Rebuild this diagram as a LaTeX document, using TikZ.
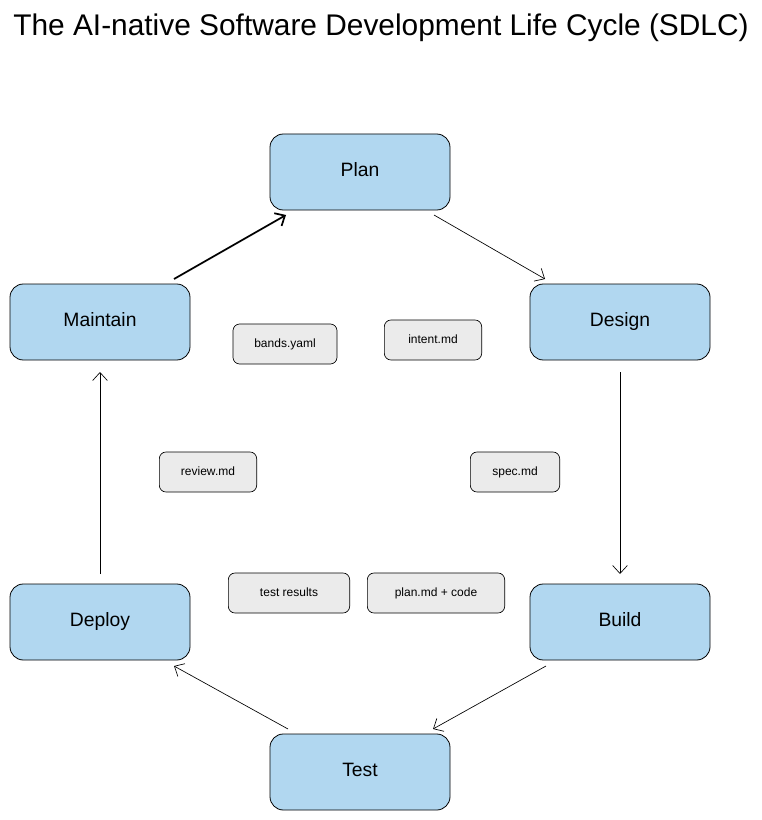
\documentclass[tikz,border=0pt]{standalone}
\usepackage{fontspec}
\setmainfont{Liberation Sans}
\usetikzlibrary{arrows.meta}
\definecolor{phase}{HTML}{B1D7F0}
\definecolor{art}{HTML}{EBEBEB}
\begin{document}
\begin{tikzpicture}[x=0.75pt,y=-0.75pt,
 phase/.style={draw=black,fill=phase,rounded corners=10pt,minimum width=135pt,minimum height=57pt,font=\fontsize{14.5}{16}\selectfont,text height=10pt,text depth=3pt,line width=0.6pt},
 art/.style={draw=black,fill=art,rounded corners=5pt,minimum height=30pt,font=\fontsize{9}{10}\selectfont,text height=6.5pt,text depth=2pt,line width=0.5pt},
 arr/.style={-{Straight Barb[length=6pt,width=11pt]},line width=0.5pt}]
\useasboundingbox (0,0) rectangle (761,820);
\node[font=\fontsize{22.4}{26}\selectfont] (title) at (381,28) {The AI-native Software Development Life Cycle (SDLC)};
\node[phase] (plan) at (360,172) {Plan};
\node[phase] (design) at (620,322) {Design};
\node[phase] (build) at (620,622) {Build};
\node[phase] (test) at (360,772) {Test};
\node[phase] (deploy) at (100,622) {Deploy};
\node[phase] (maintain) at (100,322) {Maintain};
\node[art,minimum width=78pt] (bands) at (285,344) {bands.yaml};
\node[art,minimum width=73pt] (intent) at (433,340) {intent.md};
\node[art,minimum width=73pt] (review) at (208,472) {review.md};
\node[art,minimum width=67pt] (spec) at (515,472) {spec.md};
\node[art,minimum width=91pt] (tres) at (289,593) {test results};
\node[art,minimum width=103pt] (pcode) at (436,593) {plan.md + code};
\coordinate (a1) at (434,215); \coordinate (b1) at (545,279);
\coordinate (a2) at (620,372); \coordinate (b2) at (620,574);
\coordinate (a3) at (546,666); \coordinate (b3) at (433,729);
\coordinate (a4) at (288,729); \coordinate (b4) at (174,666);
\coordinate (a5) at (100,574); \coordinate (b5) at (100,372);
\coordinate (a6) at (174,279); \coordinate (b6) at (286,215);
\draw[arr] (a1) -- (b1);
\draw[arr] (a2) -- (b2);
\draw[arr] (a3) -- (b3);
\draw[arr] (a4) -- (b4);
\draw[arr] (a5) -- (b5);
\draw[arr,line width=1.3pt] (a6) -- (b6);
\end{tikzpicture}
\end{document}
